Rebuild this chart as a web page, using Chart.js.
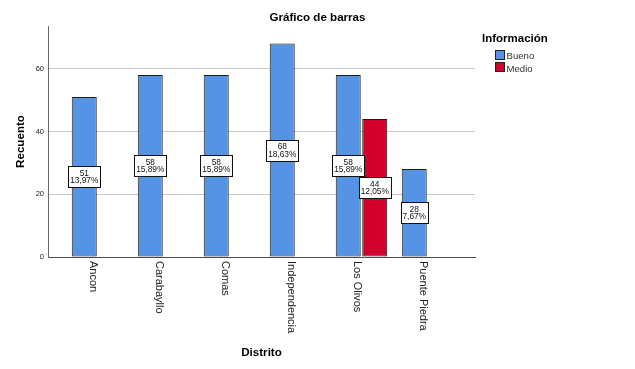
<!DOCTYPE html>
<html>
<head>
<meta charset="utf-8">
<script src="https://cdn.jsdelivr.net/npm/chart.js@4/dist/chart.umd.min.js"></script>
<style>
html,body{margin:0;padding:0;background:#fff;}
canvas{display:block;}
</style>
</head>
<body>
<canvas id="c" width="635" height="369"></canvas>
<script>
const categories = ["Ancon", "Carabayllo", "Comas", "Independencia", "Los Olivos", "Puente Piedra"];
const buenoValues = [51, 58, 58, 68, 58, 28];
const buenoPct = ["13,97%", "15,89%", "15,89%", "18,63%", "15,89%", "7,67%"];
const medioValues = [null, null, null, null, 44, null];
const medioPct = [null, null, null, null, "12,05%", null];
const yTicks = [0, 20, 40, 60];
const seriesNames = ["Bueno", "Medio"];
const seriesColors = ["#5594E4", "#D3002E"];
const pctLabels = [buenoPct, medioPct];

function toPoints(vals){ return vals.map((v,i)=>({x:i, y:v})); }

const FONT = "Arial, 'Liberation Sans', sans-serif";

const overlay = {
  id: 'overlay',
  afterDatasetsDraw(chart){
    const ctx = chart.ctx;
    ctx.save();
    ctx.font = "8.3px " + FONT;
    chart.data.datasets.forEach((ds, di) => {
      const meta = chart.getDatasetMeta(di);
      meta.data.forEach((el, i) => {
        const v = ds.data[i].y;
        if (v === null || v === undefined) return;
        const l1 = String(v), l2 = pctLabels[di][i];
        const w = Math.round(Math.max(ctx.measureText(l1).width, ctx.measureText(l2).width) + 3.5);
        const h = 21;
        const cy = (el.y + el.base) / 2;
        const bx = Math.round(el.x - w/2) + 0.5, by = Math.round(cy - h/2) + 0.5;
        ctx.fillStyle = '#fff';
        ctx.fillRect(bx, by, w, h);
        ctx.strokeStyle = '#111';
        ctx.lineWidth = 1;
        ctx.strokeRect(bx, by, w, h);
        ctx.fillStyle = '#111';
        ctx.textAlign = 'center';
        ctx.textBaseline = 'alphabetic';
        ctx.fillText(l1, el.x, cy - 0.8);
        ctx.fillText(l2, el.x, cy + 6.6);
      });
    });
    ctx.restore();
  },
  afterDraw(chart){
    const ctx = chart.ctx;
    const xs = chart.scales.x;
    const ca = chart.chartArea;
    ctx.save();
    ctx.fillStyle = '#000';
    ctx.font = "bold 11.6px " + FONT;
    ctx.textAlign = 'center';
    ctx.textBaseline = 'alphabetic';
    ctx.fillText("Gráfico de barras", 317.5, 20.5);
    ctx.fillText("Distrito", (ca.left + ca.right)/2, 356);
    ctx.save();
    ctx.translate(24, (ca.top + ca.bottom)/2);
    ctx.rotate(-Math.PI/2);
    ctx.fillText("Recuento", 0, 0);
    ctx.restore();
    ctx.font = "11px " + FONT;
    ctx.fillStyle = '#222';
    ctx.textAlign = 'left';
    categories.forEach((c, i) => {
      const px = xs.getPixelForValue(i);
      ctx.save();
      ctx.translate(px - 7.8, ca.bottom + 4);
      ctx.rotate(Math.PI/2);
      ctx.fillText(c, 0, 0);
      ctx.restore();
    });
    ctx.fillStyle = '#000';
    ctx.font = "bold 11.5px " + FONT;
    ctx.fillText("Información", 482, 41.5);
    ctx.font = "9.6px " + FONT;
    seriesNames.forEach((n, i) => {
      const y = 49.5 + i * 12.7;
      ctx.fillStyle = seriesColors[i];
      ctx.fillRect(495.5, Math.round(y) + 0.5, 9, 9);
      ctx.strokeStyle = '#222';
      ctx.lineWidth = 1;
      ctx.strokeRect(495.5, Math.round(y) + 0.5, 9, 9);
      ctx.fillStyle = '#333';
      ctx.fillText(n, 506.5, y + 9.3);
    });
    ctx.restore();
  }
};

new Chart(document.getElementById('c'), {
  type: 'bar',
  data: {
    datasets: [
      { label: seriesNames[0], data: toPoints(buenoValues), backgroundColor: seriesColors[0], borderColor: '#1c1c1c', borderWidth: 1, borderSkipped: false, categoryPercentage: 0.803, barPercentage: 0.943 },
      { label: seriesNames[1], data: toPoints(medioValues), backgroundColor: seriesColors[1], borderColor: '#1c1c1c', borderWidth: 1, borderSkipped: false, categoryPercentage: 0.803, barPercentage: 0.943 }
    ]
  },
  options: {
    responsive: false,
    devicePixelRatio: 1,
    animation: false,
    layout: { padding: { top: 26, right: 160, left: 0, bottom: 0 } },
    plugins: { legend: { display: false }, title: { display: false }, tooltip: { enabled: false } },
    scales: {
      x: {
        type: 'linear',
        offset: false,
        min: -0.75, max: 5.72,
        afterBuildTicks(s){ s.ticks = categories.map((c, i) => ({ value: i })); },
        grid: { display: false },
        border: { display: true, color: '#4a4a4a', width: 1 },
        ticks: { display: false },
        afterFit(s){ s.height = 112; }
      },
      y: {
        min: 0, max: 73.6,
        afterBuildTicks(s){ s.ticks = yTicks.map(v => ({ value: v })); },
        ticks: { font: { size: 7.5, family: FONT }, color: '#222', padding: 4, includeBounds: false },
        grid: { color: '#c8c8c8', drawTicks: false },
        border: { display: true, color: '#6a6a6a', width: 1 },
        afterFit(s){ s.width = 48; }
      }
    }
  },
  plugins: [overlay]
});
</script>
</body>
</html>
